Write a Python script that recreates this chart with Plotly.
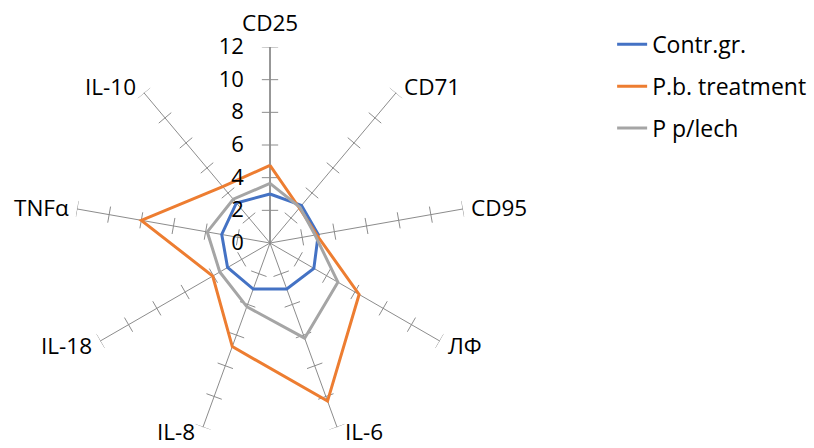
import math
import plotly.graph_objects as go

categories = ["CD25", "CD71", "CD95", "ЛФ", "IL-6", "IL-8", "IL-18", "TNFα", "IL-10"]
contr_gr = [3.0, 3.0, 3.0, 3.1, 3.0, 3.0, 3.0, 3.0, 3.2]
pb_treatment = [4.75, 2.8, 2.9, 6.3, 10.3, 6.75, 4.05, 8.0, 4.5]
p_plech = [3.65, 2.85, 2.8, 4.8, 6.2, 4.15, 3.55, 3.9, 3.5]
radial_ticks = [0, 2, 4, 6, 8, 10, 12]

series = [
    ("Contr.gr.", contr_gr, "#4472C4"),
    ("P.b. treatment", pb_treatment, "#ED7D31"),
    ("P p/lech", p_plech, "#A5A5A5"),
]

step = 360 / len(categories)
angles = [i * step for i in range(len(categories))]

FONT = "Open Sans"
SPOKE = "#8C8C8C"
W, H = 814, 448
cx, cy, R = 270, 243, 196

fig = go.Figure()

# tick marks crossing each spoke
half = 0.5
for ang in angles:
    for k in radial_ticks[1:]:
        off = math.degrees(math.atan(half / k))
        rr = math.hypot(k, half)
        fig.add_trace(go.Scatterpolar(
            r=[rr, rr], theta=[ang - off, ang + off], mode="lines",
            line=dict(color=SPOKE, width=1), showlegend=False, hoverinfo="skip"))

# radial axis line (slightly heavier) on first category
fig.add_trace(go.Scatterpolar(
    r=[0, radial_ticks[-1]], theta=[angles[0], angles[0]], mode="lines",
    line=dict(color=SPOKE, width=1.6), showlegend=False, hoverinfo="skip"))

for name, vals, color in series:
    fig.add_trace(go.Scatterpolar(
        r=vals + vals[:1], theta=angles + angles[:1], mode="lines", name=name,
        legendgroup=name, line=dict(color=color, width=3)))

# category labels placed just outside each spoke end
annotations = []
for cat, ang in zip(categories, angles):
    t = math.radians(90 - ang)
    c, s = math.cos(t), math.sin(t)
    ex, ey = cx + R * c, cy - R * s
    if abs(c) < 0.1:
        px, py, xa = ex, ey - 25 * s, "center"
    else:
        px, py = ex + 6 * (1 if c > 0 else -1), ey - 8 * s
        xa = "left" if c > 0 else "right"
    py = min(py, H - 16.5)
    annotations.append(dict(
        text=cat, x=px / W, y=1 - py / H, xref="paper", yref="paper",
        xanchor=xa, yanchor="middle", showarrow=False,
        font=dict(family=FONT, size=22.5, color="#000000")))

fig.update_layout(
    width=W, height=H,
    margin=dict(l=0, r=0, t=0, b=0),
    paper_bgcolor="white",
    font=dict(family=FONT, size=22, color="#000000"),
    annotations=annotations,
    polar=dict(
        domain=dict(x=[(cx - R) / W, (cx + R) / W], y=[1 - (cy + R) / H, 1 - (cy - R) / H]),
        bgcolor="white",
        gridshape="linear",
        radialaxis=dict(
            range=[0, 12], tickvals=radial_ticks, angle=90, side="counterclockwise",
            showgrid=False, showline=False, ticks="outside", ticklen=18,
            tickcolor="rgba(0,0,0,0)", tickangle=90,
            tickfont=dict(family=FONT, size=22, color="#000000")),
        angularaxis=dict(
            tickvals=angles, ticktext=categories, direction="clockwise", rotation=90,
            showgrid=True, gridcolor=SPOKE, gridwidth=1, showline=False,
            ticks="", showticklabels=False),
    ),
    legend=dict(x=0.752, y=0.949, xanchor="left", yanchor="top",
                font=dict(family=FONT, size=23, color="#000000"),
                bgcolor="rgba(0,0,0,0)", traceorder="grouped", tracegroupgap=9),
)

fig.write_html("out.html", post_script="document.body.style.margin='0';",
               config={"displayModeBar": False})
